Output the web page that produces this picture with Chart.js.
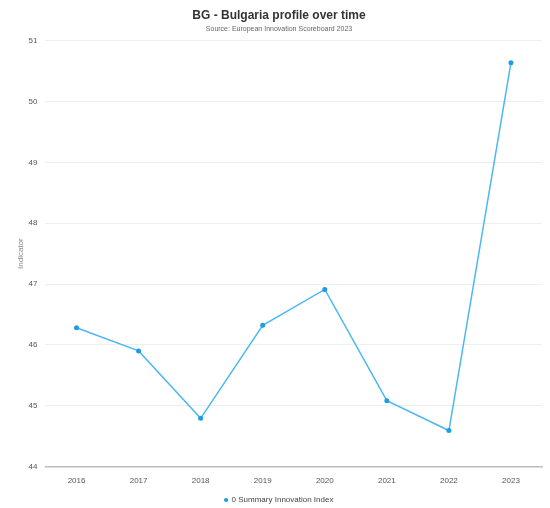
<!DOCTYPE html>
<html>
<head>
<meta charset="utf-8">
<script src="https://cdn.jsdelivr.net/npm/chart.js@4"></script>
<style>
  html, body { margin: 0; padding: 0; background: #fff; }
  #wrap { width: 550px; height: 508px; }
</style>
</head>
<body>
<div id="wrap"><canvas id="chart"></canvas></div>
<script>
// values
const years = ["2016", "2017", "2018", "2019", "2020", "2021", "2022", "2023"];
const summaryIndex = [46.28, 45.90, 44.79, 46.32, 46.91, 45.08, 44.59, 50.64];
const seriesName = "0 Summary Innovation Index";
const yMin = 44;
const yMax = 51;

const lineColor = "#4cb8f2";
const dotColor = "#1e9be6";

Chart.defaults.font.family = "'Liberation Sans', Arial, sans-serif";
Chart.defaults.color = "#555";

const ctx = document.getElementById("chart");
new Chart(ctx, {
    type: 'line',
    data: {
        labels: years,
        datasets: [{
            label: seriesName,
            data: summaryIndex,
            borderColor: lineColor,
            backgroundColor: dotColor,
            pointBackgroundColor: dotColor,
            pointBorderColor: dotColor,
            pointBorderWidth: 0,
            borderWidth: 1.5,
            pointRadius: 2.5,
            tension: 0
        }]
    },
    options: {
        responsive: true,
        maintainAspectRatio: false,
        animation: false,
        layout: {
            padding: { left: 16, right: 8, top: 4, bottom: -6 }
        },
        plugins: {
            title: {
                display: true,
                text: "BG - Bulgaria profile over time",
                color: "#333",
                font: { size: 12, weight: 'bold' },
                padding: { top: 4, bottom: 2 }
            },
            subtitle: {
                display: true,
                text: "Source: European Innovation Scoreboard 2023",
                color: "#666",
                font: { size: 7 },
                padding: { bottom: 8 }
            },
            legend: {
                position: 'bottom',
                labels: {
                    usePointStyle: true,
                    pointStyle: 'circle',
                    boxWidth: 3,
                    boxHeight: 3,
                    color: "#444",
                    font: { size: 8 },
                    padding: 0
                }
            },
            tooltip: { enabled: false }
        },
        scales: {
            x: {
                offset: true,
                grid: { display: false, drawTicks: false },
                border: { display: true, color: "#bbb", width: 1.5 },
                ticks: { font: { size: 8 }, color: "#555", padding: 10 }
            },
            y: {
                min: yMin,
                max: yMax,
                grid: { color: "#eeeeee", drawTicks: false },
                border: { display: false },
                ticks: { stepSize: 1, font: { size: 8 }, color: "#555", padding: 8 },
                title: {
                    display: true,
                    text: "Indicator",
                    color: "#888",
                    font: { size: 8 },
                    padding: { top: 0, bottom: -5 }
                }
            }
        }
    }
});
</script>
</body>
</html>
